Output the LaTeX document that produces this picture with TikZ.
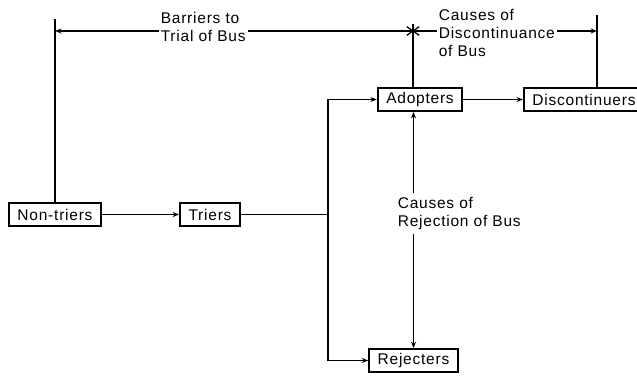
\documentclass[tikz,border=0pt]{standalone}
\usepackage{fontspec}
\setmainfont{Liberation Sans}[LetterSpace=5]
\usepackage{tikz}
\usetikzlibrary{arrows, arrows.meta, calc}
\tikzstyle{arrow} = [->,>={Stealth[length=6.5pt,width=5pt]},line width=1.6pt]
\tikzstyle{stage} = [draw, line width=1.8pt, minimum height=23pt, inner xsep=8.5pt, inner ysep=0pt]
\tikzstyle{cause} = [fill=white, align=left, inner sep=2pt]

\begin{document}
\begin{tikzpicture}[x=1pt,y=-1pt,line width=1.6pt,font=\fontsize{15.5}{18}\selectfont]
\useasboundingbox (0,0) rectangle (637,375);

    % --- stages of use
    \node[stage] (nontriers) at (55,214.5) {Non-triers};
    \node[stage] (triers) at (210,214.5) {Triers};
    \node[stage] (adopters) at (420,99.5) {Adopters};
    \node[stage, anchor=west] (discont) at (523,99.5) {Discontinuers};
    \node[stage] (rejecters) at (413.5,360.5) {Rejecters};
    \draw[arrow] (nontriers) -- (triers);
    \draw[arrow] (adopters) -- (discont);

    % --- branching after trial
    \coordinate (split) at (328,214.5);
    \draw (triers) -- (split);
    \draw[arrow] (split) |- (adopters);
    \draw[arrow] (split) |- (rejecters);

    % --- lines at the top
    \coordinate (star) at (413,31);
    \coordinate (ltop) at (55,19);
    \coordinate (rtop) at (597,15);
    \draw (ltop) -- (nontriers.north);
    \draw (rtop) -- (rtop |- discont.north);
    \draw[arrow] (star) -- (star -| ltop);
    \draw[arrow] (star) -- (star -| rtop);
    \draw (star) -- (star |- adopters.north);
    \foreach \a in {35,90,145}
        \draw[line width=1.3pt] ($(star)+(\a:7.5)$) -- ($(star)+(\a+180:7.5)$);

    % --- causes
    \node[cause, anchor=west] (barriers) at (158,26.5) {Barriers to\\Trial of Bus};
    \node[cause, anchor=west] (discause) at (436,33) {Causes of\\Discontinuance\\of Bus};
    \draw[arrow, <->] (adopters.south -| rejecters.north) -- (rejecters.north);
    \node[cause, anchor=west, inner ysep=4pt] (rejcause) at (395,213.5) {Causes of\\Rejection of Bus};

\end{tikzpicture}
\end{document}
